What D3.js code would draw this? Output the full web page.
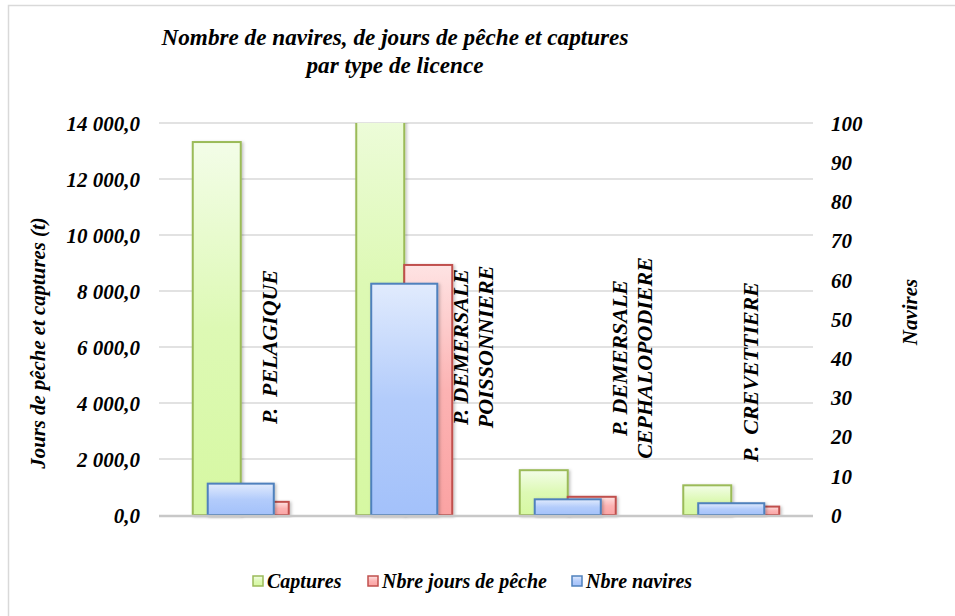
<!DOCTYPE html>
<html>
<head>
<meta charset="utf-8">
<script src="https://cdn.jsdelivr.net/npm/d3@7"></script>
<style>
  html, body { margin: 0; padding: 0; background: #fff; }
  svg { display: block; }
  text { font-family: "Liberation Serif", "Times New Roman", serif; font-weight: bold; font-style: italic; fill: #000; white-space: pre; }
</style>
</head>
<body>
<script>
// ---- data ----
const categories = ["P.  PELAGIQUE", "P. DEMERSALE POISSONNIERE", "P. DEMERSALE CEPHALOPODIERE", "P.  CREVETTIERE"];
const categoryLines = [["P.  PELAGIQUE"], ["P. DEMERSALE", "POISSONNIERE"], ["P. DEMERSALE", "CEPHALOPODIERE"], ["P.  CREVETTIERE"]];
const captures = [13320, 16500, 1600, 1060];
const joursPeche = [470, 8930, 650, 300];
const navires = [8, 59, 4, 3];
const leftTicks = [0, 2000, 4000, 6000, 8000, 10000, 12000, 14000];
const rightTicks = [0, 10, 20, 30, 40, 50, 60, 70, 80, 90, 100];
const seriesNames = ["Captures", "Nbre jours de pêche", "Nbre navires"];
const titleLines = ["Nombre de navires, de jours de pêche et captures", "par type de licence"];
const leftAxisTitle = "Jours de pêche et captures (t)";
const rightAxisTitle = "Navires";

// ---- layout (not data) ----
const W = 955, H = 616;
const plot = { left: 159, right: 813, top: 123, bottom: 515 };
const labelOffsetX = [29, 69, 64, 19];     // label centre relative to band centre
const labelCenterY = [347, 347, 358, 372];
const colors = {
  cap: { stroke: "#9bbb59", top: "#f3fde8", bottom: "#d6f8a2" },
  jours: { stroke: "#c0504d", top: "#fee3e3", bottom: "#fba3a3" },
  nav: { stroke: "#4f81bd", top: "#e1ebfd", bottom: "#a3c1fa" }
};

const svg = d3.select("body").append("svg").attr("width", W).attr("height", H);
const defs = svg.append("defs");
Object.entries(colors).forEach(([k, c]) => {
  const g = defs.append("linearGradient").attr("id", "grad-" + k)
    .attr("x1", 0).attr("y1", 0).attr("x2", 0).attr("y2", 1);
  g.append("stop").attr("offset", "0%").attr("stop-color", c.top);
  g.append("stop").attr("offset", "50%").attr("stop-color", d3.interpolateRgb(c.top, c.bottom)(0.75));
  g.append("stop").attr("offset", "100%").attr("stop-color", c.bottom);
});
const shadow = defs.append("filter").attr("id", "shadow").attr("x", "-20%").attr("y", "-20%").attr("width", "140%").attr("height", "140%");
shadow.append("feDropShadow").attr("dx", 1.5).attr("dy", 1).attr("stdDeviation", 1.5).attr("flood-color", "#000").attr("flood-opacity", 0.25);
defs.append("clipPath").attr("id", "plotclip").append("rect")
  .attr("x", plot.left - 5).attr("y", plot.top).attr("width", plot.right - plot.left + 10).attr("height", plot.bottom - plot.top + 5);

// chart border (right/bottom edges fall outside the picture)
svg.append("rect").attr("x", 8.5).attr("y", 5.5).attr("width", 960).attr("height", 620)
  .attr("fill", "none").attr("stroke", "#d9d9d9").attr("stroke-width", 1.5);

// scales
const yL = d3.scaleLinear().domain([0, 14000]).range([plot.bottom, plot.top]);
const yR = d3.scaleLinear().domain([0, 100]).range([plot.bottom, plot.top]);
const x0 = d3.scaleBand().domain(categories).range([plot.left, plot.right]).paddingInner(0.413).paddingOuter(0.2065);
const x1 = d3.scaleBand().domain(["cap", "jours"]).range([0, x0.bandwidth()]);
const xS = d3.scaleBand().domain(categories).range([plot.left, plot.right]).paddingInner(0.596).paddingOuter(0.298);

// gridlines
svg.append("g").selectAll("line").data(leftTicks.filter(t => t > 0)).join("line")
  .attr("x1", plot.left).attr("x2", plot.right)
  .attr("y1", d => yL(d)).attr("y2", d => yL(d))
  .attr("stroke", "#d9d9d9").attr("stroke-width", 1.5);

// axes
const axL = svg.append("g").attr("transform", `translate(${plot.left},0)`)
  .call(d3.axisLeft(yL).tickValues(leftTicks).tickSize(0).tickPadding(19)
    .tickFormat(d => d3.format(",.1f")(d).replace(",", " ").replace(".", ",")));
axL.attr("font-family", null);
axL.select(".domain").remove();
axL.selectAll("text").attr("font-size", 21).attr("dy", "0.35em");

const axR = svg.append("g").attr("transform", `translate(${plot.right},0)`)
  .call(d3.axisRight(yR).tickValues(rightTicks).tickSize(0).tickPadding(18));
axR.attr("font-family", null);
axR.select(".domain").remove();
axR.selectAll("text").attr("font-size", 21).attr("dy", "0.35em");

// bars
const bars = svg.append("g").attr("clip-path", "url(#plotclip)");
const primary = categories.map((c, i) => [
  { cat: c, key: "cap", v: captures[i] },
  { cat: c, key: "jours", v: joursPeche[i] }
]);
bars.selectAll("g.cat").data(primary).join("g").attr("class", "cat")
  .attr("transform", d => `translate(${x0(d[0].cat)},0)`)
  .selectAll("rect").data(d => d).join("rect")
  .attr("x", d => x1(d.key)).attr("width", x1.bandwidth())
  .attr("y", d => yL(d.v)).attr("height", d => yL(0) - yL(d.v))
  .attr("fill", d => `url(#grad-${d.key})`)
  .attr("stroke", d => colors[d.key].stroke).attr("stroke-width", 2)
  .attr("filter", "url(#shadow)");

bars.selectAll("rect.nav").data(categories.map((c, i) => ({ cat: c, v: navires[i] }))).join("rect")
  .attr("class", "nav")
  .attr("x", d => xS(d.cat)).attr("width", xS.bandwidth())
  .attr("y", d => yR(d.v)).attr("height", d => yR(0) - yR(d.v))
  .attr("fill", "url(#grad-nav)")
  .attr("stroke", colors.nav.stroke).attr("stroke-width", 2)
  .attr("filter", "url(#shadow)");

// baseline
svg.append("line").attr("x1", plot.left).attr("x2", plot.right)
  .attr("y1", plot.bottom + 1).attr("y2", plot.bottom + 1)
  .attr("stroke", "#c8c8c8").attr("stroke-width", 2.5);

// category labels (rotated, inside plot)
const lab = svg.append("g");
categories.forEach((c, i) => {
  const lines = categoryLines[i];
  const cx = x0(c) + x0.bandwidth() / 2 + labelOffsetX[i];
  const lh = 25;
  const t = lab.append("text")
    .attr("transform", `translate(${cx},${labelCenterY[i]}) rotate(-90)`)
    .attr("text-anchor", "middle").attr("font-size", 22);
  lines.forEach((l, j) => {
    t.append("tspan").attr("x", 0)
      .attr("y", (j - (lines.length - 1) / 2) * lh)
      .attr("dy", "0.35em").text(l);
  });
});

// title
svg.append("text").attr("x", 395).attr("y", 45).attr("text-anchor", "middle").attr("font-size", 23.2)
  .selectAll("tspan").data(titleLines).join("tspan")
  .attr("x", 395).attr("dy", (d, i) => i === 0 ? 0 : 28).text(d => d);

// axis titles
svg.append("text").attr("transform", `translate(38,343) rotate(-90)`).attr("text-anchor", "middle")
  .attr("dy", "0.35em").attr("font-size", 20.8).text(leftAxisTitle);
svg.append("text").attr("transform", `translate(910,312) rotate(-90)`).attr("text-anchor", "middle")
  .attr("dy", "0.35em").attr("font-size", 21).text(rightAxisTitle);

// legend
const legendKeys = ["cap", "jours", "nav"];
const legendX = [253, 368, 572];
const lg = svg.append("g");
seriesNames.forEach((s, i) => {
  const k = legendKeys[i];
  lg.append("rect").attr("x", legendX[i]).attr("y", 576).attr("width", 10).attr("height", 10)
    .attr("fill", `url(#grad-${k})`).attr("stroke", colors[k].stroke).attr("stroke-width", 1.5);
  lg.append("text").attr("x", legendX[i] + 14).attr("y", 588).attr("font-size", 20).text(s);
});
</script>
</body>
</html>
